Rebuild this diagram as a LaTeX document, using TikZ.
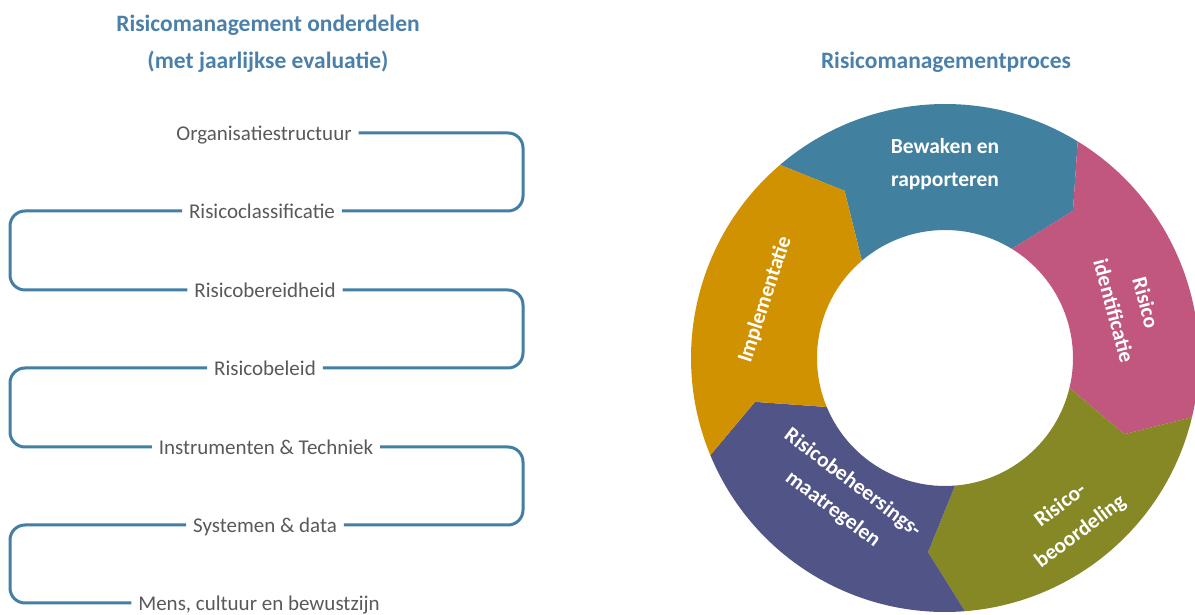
\documentclass[tikz,border=0pt]{standalone}
\usepackage{fontspec}
\setmainfont{Carlito}
\usetikzlibrary{positioning, calc}

\definecolor{titelblauw}{HTML}{4A80A9}
\definecolor{lijnblauw}{HTML}{437EA5}
\definecolor{tekstgrijs}{HTML}{595959}
\definecolor{faseblauw}{HTML}{41809F}
\definecolor{faseroze}{HTML}{C1567F}
\definecolor{faseolijf}{HTML}{868826}
\definecolor{fasepaars}{HTML}{515486}
\definecolor{faseoranje}{HTML}{D09200}

\begin{document}
\begin{tikzpicture}[x=1pt, y=1pt,
  item/.style={text=tekstgrijs, font=\fontsize{21}{25}\selectfont,
               text height=17pt, text depth=1pt, inner sep=0pt, outer sep=7pt},
  titel/.style={text=titelblauw, font=\bfseries\fontsize{23.5}{37}\selectfont, align=center},
  lijn/.style={draw=lijnblauw, line width=3pt, rounded corners=15pt},
  fase/.style={text=white, font=\bfseries\fontsize{21.5}{33}\selectfont, align=center}]
\useasboundingbox (0,0) rectangle (1195,615);

% titels
\node[titel] (titellinks)  at (268,571.5) {Risicomanagement onderdelen\\(met jaarlijkse evaluatie)};
\node[titel] (titelrechts) at (946,553) {Risicomanagementproces};

% onderdelen
\node[item] (org)    at (264,482) {Organisatiestructuur};
\node[item] (klass)  at (262,404) {Risicoclassificatie};
\node[item] (bereid) at (265,325) {Risicobereidheid};
\node[item] (beleid) at (265,247) {Risicobeleid};
\node[item] (instr)  at (266,168) {Instrumenten \& Techniek};
\node[item] (syst)   at (265,90)  {Systemen \& data};
\node[item] (mens)   at (259,12)  {Mens, cultuur en bewustzijn};
\coordinate (rechts) at (523,0);
\coordinate (links)  at (10,0);

\draw[lijn] (org.east)    -| (rechts |- klass.east)  -- (klass.east);
\draw[lijn] (klass.west)  -| (links |- bereid.west)  -- (bereid.west);
\draw[lijn] (bereid.east) -| (rechts |- beleid.east) -- (beleid.east);
\draw[lijn] (beleid.west) -| (links |- instr.west)   -- (instr.west);
\draw[lijn] (instr.east)  -| (rechts |- syst.east)   -- (syst.east);
\draw[lijn] (syst.west)   -| (links |- mens.west)    -- (mens.west);

% proces
\begin{scope}[shift={(945,257)}]
\fill[faseblauw] (130.5:254pt) arc[start angle=130.5, end angle=58.5, radius=254pt]
  -- (49:195pt) -- (58.5:128pt) arc[start angle=58.5, end angle=130.5, radius=128pt]
  -- (121:195pt) -- cycle;
\fill[faseroze] (58.5:254pt) arc[start angle=58.5, end angle=-13.5, radius=254pt]
  -- (-23:195pt) -- (-13.5:128pt) arc[start angle=-13.5, end angle=58.5, radius=128pt]
  -- (49:195pt) -- cycle;
\fill[faseolijf] (-13.5:254pt) arc[start angle=-13.5, end angle=-85.5, radius=254pt]
  -- (-95:195pt) -- (-85.5:128pt) arc[start angle=-85.5, end angle=-13.5, radius=128pt]
  -- (-23:195pt) -- cycle;
\fill[fasepaars] (-85.5:254pt) arc[start angle=-85.5, end angle=-157.5, radius=254pt]
  -- (-167:195pt) -- (-157.5:128pt) arc[start angle=-157.5, end angle=-85.5, radius=128pt]
  -- (-95:195pt) -- cycle;
\fill[faseoranje] (202.5:254pt) arc[start angle=202.5, end angle=130.5, radius=254pt]
  -- (121:195pt) -- (130.5:128pt) arc[start angle=130.5, end angle=202.5, radius=128pt]
  -- (193:195pt) -- cycle;

\node[fase]             (bewaken)       at (90:194pt)     {Bewaken en\\rapporteren};
\node[fase, rotate=-75] (identificatie) at (15.5:192pt)   {Risico\\identificatie};
\node[fase, rotate=37]  (beoordeling)   at (-52:204pt)    {Risico-\\beoordeling};
\node[fase, rotate=-37] (maatregelen)   at (-126.5:172pt) {Risicobeheersings-\\maatregelen};
\node[fase, rotate=72]  (implementatie) at (162:189pt)    {Implementatie};
\end{scope}
\end{tikzpicture}
\end{document}
